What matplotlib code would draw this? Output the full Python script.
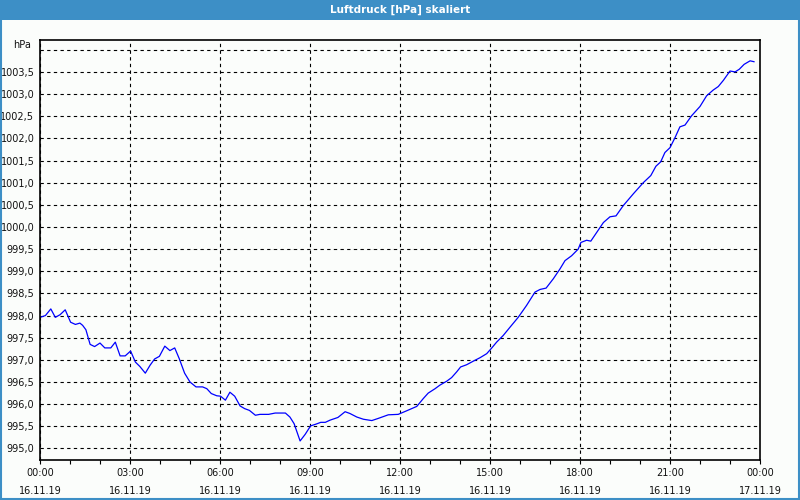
import matplotlib
matplotlib.use('Agg')
import matplotlib.pyplot as plt
from matplotlib.patches import Rectangle
import numpy as np

# Luftdruck values (hours since 16.11.19 00:00, hPa)
hours = [0.00, 0.18, 0.36, 0.51, 0.67, 0.84, 1.02, 1.18, 1.33, 1.42, 1.53, 1.67, 1.82,
         2.00, 2.16, 2.36, 2.51, 2.67, 2.84, 3.02, 3.18, 3.33, 3.51, 3.67, 3.82, 3.98,
         4.16, 4.33, 4.49, 4.64, 4.82, 5.00, 5.20, 5.42, 5.56, 5.71, 5.89, 6.02, 6.18,
         6.33, 6.49, 6.67, 6.82, 6.98, 7.18, 7.33, 7.62, 7.84, 8.00, 8.18, 8.33, 8.47,
         8.67, 8.84, 9.02, 9.20, 9.36, 9.51, 9.67, 9.93, 10.17, 10.33, 10.56, 10.78,
         11.06, 11.28, 11.61, 11.94, 12.22, 12.56, 12.78, 12.94, 13.17, 13.33, 13.56,
         13.72, 13.89, 14.02, 14.22, 14.44, 14.67, 14.89, 15.06, 15.22, 15.44, 15.67,
         15.94, 16.22, 16.50, 16.67, 16.87, 17.11, 17.33, 17.50, 17.72, 17.94, 18.03,
         18.22, 18.36, 18.56, 18.78, 19.00, 19.20, 19.44, 19.78, 20.11, 20.36, 20.53,
         20.69, 20.83, 21.00, 21.17, 21.33, 21.50, 21.72, 22.00, 22.22, 22.44, 22.61,
         22.78, 23.00, 23.17, 23.31, 23.47, 23.67, 23.80]
pressure = [997.96, 998.00, 998.15, 997.96, 998.02, 998.13, 997.85, 997.80, 997.83, 997.78,
            997.68, 997.35, 997.30, 997.38, 997.27, 997.27, 997.40, 997.09, 997.09, 997.20,
            996.95, 996.85, 996.70, 996.88, 997.02, 997.08, 997.31, 997.21, 997.27, 997.03,
            996.70, 996.50, 996.39, 996.39, 996.35, 996.24, 996.19, 996.18, 996.09, 996.27,
            996.18, 995.96, 995.90, 995.86, 995.75, 995.77, 995.77, 995.80, 995.80, 995.80,
            995.71, 995.56, 995.17, 995.32, 995.51, 995.55, 995.59, 995.59, 995.64, 995.70,
            995.83, 995.79, 995.71, 995.66, 995.63, 995.68, 995.76, 995.77, 995.85, 995.95,
            996.13, 996.25, 996.35, 996.43, 996.52, 996.60, 996.73, 996.84, 996.89, 996.97,
            997.05, 997.14, 997.27, 997.40, 997.55, 997.74, 997.96, 998.23, 998.53, 998.59,
            998.62, 998.83, 999.05, 999.24, 999.35, 999.50, 999.65, 999.70, 999.68, 999.88,
            1000.10, 1000.23, 1000.25, 1000.48, 1000.75, 1001.00, 1001.16, 1001.37, 1001.47,
            1001.68, 1001.79, 1002.02, 1002.26, 1002.30, 1002.51, 1002.72, 1002.96, 1003.09,
            1003.17, 1003.31, 1003.52, 1003.50, 1003.56, 1003.67, 1003.75, 1003.73]

tick_hours = [0, 3, 6, 9, 12, 15, 18, 21, 24]
tick_times = ['00:00', '03:00', '06:00', '09:00', '12:00', '15:00', '18:00', '21:00', '00:00']
tick_dates = ['16.11.19'] * 8 + ['17.11.19']
y_ticks = [995.0, 995.5, 996.0, 996.5, 997.0, 997.5, 998.0, 998.5, 999.0, 999.5,
           1000.0, 1000.5, 1001.0, 1001.5, 1002.0, 1002.5, 1003.0, 1003.5]

bg = '#fbfdfb'
fig = plt.figure(figsize=(8, 5), dpi=100, facecolor=bg)

# title bar
fig.patches.append(Rectangle((0, 0.96), 1, 0.04, transform=fig.transFigure,
                             facecolor='#3d8fc6', edgecolor='none', zorder=0))
fig.patches.append(Rectangle((0.001, 0.002), 0.998, 0.996, transform=fig.transFigure,
                             facecolor='none', edgecolor='#3d8fc6', linewidth=1.5, zorder=5))
fig.text(0.5, 0.98, 'Luftdruck [hPa] skaliert', color='white', ha='center', va='center',
         fontsize=7.5, fontweight='bold')

ax = fig.add_axes([0.05, 0.08, 0.9, 0.84])
ax.set_facecolor(bg)
ax.plot(hours, pressure, color='#0000ff', linewidth=0.9)

ax.set_xlim(0, 24)
ax.set_ylim(994.74, 1004.22)

ax.set_xticks(tick_hours)
ax.set_xticklabels([t + '\n' + d for t, d in zip(tick_times, tick_dates)],
                   fontsize=7, linespacing=1.9, color='#111111')
ax.set_xticks(np.arange(0, 25, 1), minor=True)
ax.tick_params(axis='x', which='both', direction='out', length=3, width=0.8, pad=3)

ax.set_yticks(y_ticks + [1004.0])
ax.set_yticklabels([f'{v:.1f}'.replace('.', ',') for v in y_ticks] + [''],
                   fontsize=7, color='#111111')
ax.tick_params(axis='y', length=0, pad=4)

ax.grid(True, which='major', color='black', linestyle=(0, (3, 3)), linewidth=0.8)
for s in ax.spines.values():
    s.set_linewidth(1.2)

fig.text(13 / 800, 1 - 45 / 500, 'hPa', fontsize=7, va='center', ha='left', color='#111111')

fig.savefig('out.png', dpi=100, facecolor=bg)
